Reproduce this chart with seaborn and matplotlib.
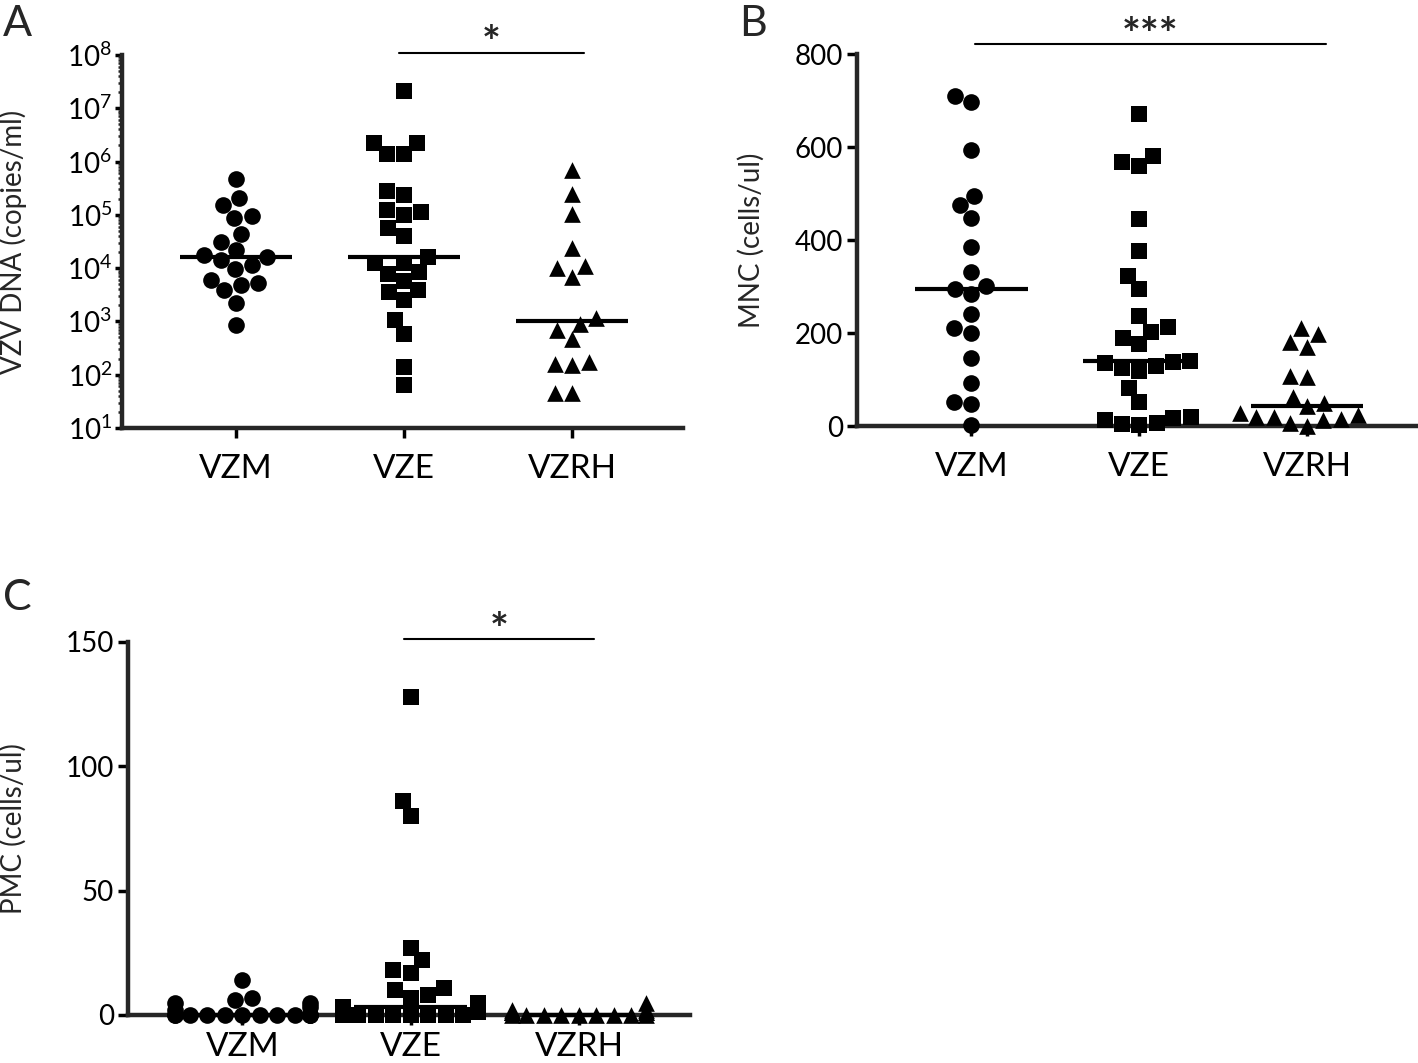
import warnings
import numpy as np
import matplotlib
matplotlib.use("Agg")
import matplotlib.pyplot as plt
import matplotlib.ticker as mticker
import matplotlib.transforms as mtransforms
import seaborn as sns

warnings.filterwarnings("ignore")

groups = ["VZM", "VZE", "VZRH"]
group_markers = ["o", "s", "^"]

# A - VZV DNA (copies/ml), log axis
dna_vzm = [4.7e5, 2.1e5, 1.5e5, 9.7e4, 8.6e4, 4.4e4, 3.1e4, 2.2e4, 1.77e4, 1.6e4,
           1.43e4, 1.13e4, 9.5e3, 6.0e3, 5.2e3, 4.8e3, 3.8e3, 2.25e3, 8.6e2]
dna_vze = [2.1e7, 2.26e6, 2.26e6, 1.39e6, 1.39e6, 2.8e5, 2.36e5, 1.24e5, 1.12e5, 1.0e5,
           5.6e4, 4.07e4, 1.6e4, 1.24e4, 1.24e4, 8.6e3, 7.7e3, 5.8e3, 3.8e3, 3.5e3,
           2.5e3, 1.07e3, 5.8e2, 1.42e2, 6.4e1]
dna_vzrh = [6.95e5, 2.43e5, 1.04e5, 2.36e4, 1.11e4, 9.95e3, 6.9e3, 1.18e3, 8.85e2, 6.93e2,
            4.7e2, 1.76e2, 1.57e2, 1.53e2, 4.6e1, 4.6e1]

# B - MNC (cells/ul)
mnc_vzm = [710, 696, 594, 495, 475, 448, 384, 331, 302, 294, 283, 240, 210, 200, 147,
           92, 52, 47, 2]
mnc_vze = [670, 581, 567, 560, 445, 376, 323, 295, 237, 212, 203, 190, 176, 140, 138,
           136, 130, 124, 118, 81, 52, 20, 17, 13, 6, 5, 2]
mnc_vzrh = [210, 199, 181, 171, 108, 106, 63, 49, 43, 27, 24, 20, 20, 16, 13, 6, 0]

# C - PMC (cells/ul)
pmc_vzm = [14, 7, 6, 5, 5, 3, 2, 0, 0, 0, 0, 0, 0, 0, 0, 0, 0, 0, 0]
pmc_vze = [128, 86, 80, 27, 22, 18, 17, 11, 10, 8, 7, 5, 4, 3, 2, 2, 1, 1, 1,
           0, 0, 0, 0, 0, 0, 0, 0]
pmc_vzrh = [5, 2, 2, 1, 1, 1, 1, 1, 0, 0, 0, 0, 0, 0, 0, 0, 0]

sns.set_style("ticks")
plt.rcParams["font.family"] = ["Lato", "DejaVu Sans"]
plt.rcParams["mathtext.fontset"] = "custom"
plt.rcParams["mathtext.rm"] = "Lato"
plt.rcParams["mathtext.it"] = "Lato:italic"
plt.rcParams["mathtext.bf"] = "Lato:bold"

fig = plt.figure(figsize=(14.18, 10.63), dpi=100)
ax_a = fig.add_axes([0.0860, 0.5974, 0.3956, 0.3509])
ax_b = fig.add_axes([0.6044, 0.5992, 0.3956, 0.3500])
ax_c = fig.add_axes([0.0903, 0.0452, 0.3963, 0.3509])


def draw_panel(ax, series, log=False, xpad=12):
    for i, (g, vals, m) in enumerate(zip(groups, series, group_markers)):
        sns.swarmplot(x=[g] * len(vals), y=vals, order=groups, marker=m,
                      color="black", size=12, linewidth=0, clip_on=False,
                      log_scale=True if log else None, ax=ax)
        # median line
        ax.hlines(np.median(vals), i - 0.335, i + 0.335, color="black",
                  lw=3, zorder=4, clip_on=False)
    ax.set_xlim(-0.68, 2.66)
    ax.set_xlabel("")
    sns.despine(ax=ax)
    for side in ["left", "bottom"]:
        ax.spines[side].set_linewidth(3.2)
    ax.tick_params(axis="x", which="major", length=7, width=2.5, pad=xpad,
                   labelsize=24, colors="black")
    ax.tick_params(axis="x", which="minor", bottom=False)
    ax.tick_params(axis="y", which="major", length=7, width=2.5, pad=3,
                   labelsize=20, colors="black")


def sig_bar(ax, x0, x1, y_line, y_text, label):
    trans = mtransforms.blended_transform_factory(ax.transData, ax.transAxes)
    ax.plot([x0, x1], [y_line, y_line], color="black", lw=1.5,
            transform=trans, clip_on=False)
    ax.text((x0 + x1) / 2, y_text, label, transform=trans, ha="center",
            va="center", fontsize=32, fontweight="bold")


# A
draw_panel(ax_a, [dna_vzm, dna_vze, dna_vzrh], log=True)
ax_a.set_ylim(10, 1e8)
ax_a.yaxis.set_major_locator(mticker.LogLocator(base=10, numticks=10))
ax_a.yaxis.set_major_formatter(mticker.FuncFormatter(
    lambda v, p: r"$\mathregular{10^{%d}}$" % round(np.log10(v))))
ax_a.yaxis.set_minor_locator(mticker.LogLocator(base=10, subs=np.arange(2, 10), numticks=10))
ax_a.yaxis.set_minor_formatter(mticker.NullFormatter())
ax_a.tick_params(axis="y", which="major", length=5, width=2.5, pad=2, labelsize=20)
ax_a.tick_params(axis="y", which="minor", length=3, width=1.8)
ax_a.set_ylabel("VZV DNA (copies/ml)", fontsize=20)
ax_a.yaxis.set_label_coords(-0.169, 0.5)
sig_bar(ax_a, 0.97, 2.07, 1.005, 1.03, "*")

# B
draw_panel(ax_b, [mnc_vzm, mnc_vze, mnc_vzrh])
ax_b.set_ylim(0, 800)
ax_b.set_yticks([0, 200, 400, 600, 800])
ax_b.set_ylabel("MNC (cells/ul)", fontsize=20)
ax_b.yaxis.set_label_coords(-0.164, 0.5)
sig_bar(ax_b, 0.02, 2.11, 1.027, 1.048, "***")

# C
draw_panel(ax_c, [pmc_vzm, pmc_vze, pmc_vzrh], xpad=5)
ax_c.set_ylim(0, 150)
ax_c.set_yticks([0, 50, 100, 150])
ax_c.set_ylabel("PMC (cells/ul)", fontsize=20)
ax_c.yaxis.set_label_coords(-0.18, 0.5)
sig_bar(ax_c, 0.96, 2.09, 1.008, 1.03, "*")

fig.text(0.002, 0.995, "A", ha="left", va="top", fontsize=31)
fig.text(0.521, 0.995, "B", ha="left", va="top", fontsize=31)
fig.text(0.002, 0.455, "C", ha="left", va="top", fontsize=31)

fig.savefig("out.png", dpi=100)
